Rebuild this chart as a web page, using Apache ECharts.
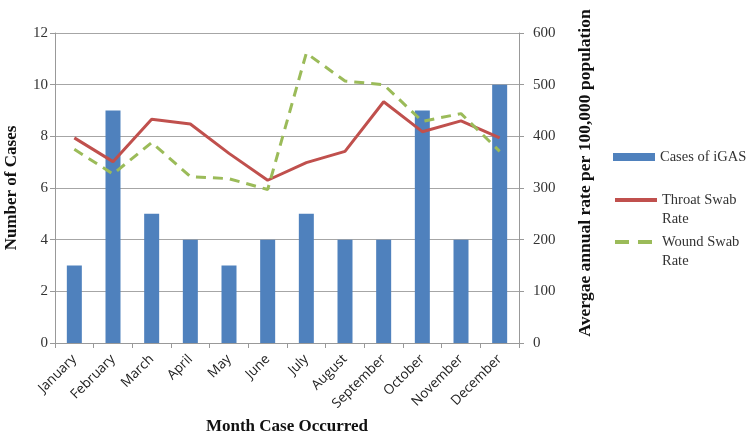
<!DOCTYPE html>
<html><head><meta charset="utf-8">
<script src="https://cdn.jsdelivr.net/npm/echarts@6/dist/echarts.min.js"></script>
<style>html,body{margin:0;padding:0;background:#fff}#c{width:747px;height:432px}</style>
</head><body><div id="c"></div>
<script>
const months = ['January','February','March','April','May','June','July','August','September','October','November','December'];
const cases = [3,9,5,4,3,4,5,4,4,9,4,10];
const throatRate = [397,351,433,424,367,315,349,371,467,409,430,397];
const woundRate = [375,327,388,322,318,297,561,507,500,429,444,371];
const leftTicks = {min:0,max:12,interval:2};
const rightTicks = {min:0,max:600,interval:100};

const serif = '"Liberation Serif", "DejaVu Serif", serif';
const legendText = {fontFamily:serif,fontSize:14.5,color:'#333',lineHeight:19};
function mkLegend(name, top){
  return {
    orient:'vertical', left:613, top:top, padding:0, itemWidth:42, itemHeight:8, itemGap:0,
    textStyle:legendText,
    formatter:function(n){return n==='Throat Swab Rate'?' \nThroat Swab\nRate':(n==='Wound Swab Rate'?' \nWound Swab\nRate':n);},
    data:[name]
  };
}
const chart = echarts.init(document.getElementById('c'));
chart.setOption({
  animation:false,
  grid:{left:55,right:228,top:33,bottom:89,containLabel:false,outerBoundsMode:'none'},
  legend:[
    mkLegend({name:'Cases of iGAS',icon:'rect'}, 147.5),
    mkLegend({name:'Throat Swab Rate',itemStyle:{opacity:0},lineStyle:{width:4}}, 171.5),
    mkLegend({name:'Wound Swab Rate',itemStyle:{opacity:0},lineStyle:{width:4,type:[14,9]}}, 213.5)
  ],
  xAxis:{
    type:'category', data:months, boundaryGap:true,
    axisLine:{lineStyle:{color:'#999'}},
    axisTick:{show:true,alignWithLabel:false,length:5,lineStyle:{color:'#999'}},
    axisLabel:{rotate:45,interval:0,fontFamily:'"Open Sans", "Liberation Sans", sans-serif',fontSize:13.5,color:'#222',margin:14},
    name:'Month Case Occurred', nameLocation:'middle', nameGap:73,
    nameTextStyle:{fontFamily:serif,fontSize:17,fontWeight:'bold',color:'#111'}
  },
  yAxis:[{
    type:'value', min:leftTicks.min, max:leftTicks.max, interval:leftTicks.interval,
    axisLine:{show:true,lineStyle:{color:'#999'}},
    axisTick:{show:true,length:5,lineStyle:{color:'#999'}},
    splitLine:{show:true,lineStyle:{color:'#a6a6a6'}},
    axisLabel:{fontFamily:serif,fontSize:15,color:'#333',margin:7},
    name:'Number of Cases', nameLocation:'middle', nameGap:35, nameRotate:90,
    nameTextStyle:{fontFamily:serif,fontSize:17,fontWeight:'bold',color:'#111'}
  },{
    type:'value', min:rightTicks.min, max:rightTicks.max, interval:rightTicks.interval,
    position:'right',
    axisLine:{show:true,lineStyle:{color:'#999'}},
    axisTick:{show:true,length:5,lineStyle:{color:'#999'}},
    splitLine:{show:false},
    axisLabel:{fontFamily:serif,fontSize:15,color:'#333',margin:14},
    name:'Avergae annual rate per 100,000 population', nameLocation:'middle', nameGap:57, nameRotate:90,
    nameTextStyle:{fontFamily:serif,fontSize:17.5,fontWeight:'bold',color:'#111',padding:[0,0,0,30]}
  }],
  series:[{
    name:'Cases of iGAS', type:'bar', data:cases, barWidth:15, yAxisIndex:0,
    itemStyle:{color:'#4f81bd'}
  },{
    name:'Throat Swab Rate', type:'line', data:throatRate, yAxisIndex:1, symbol:'none',
    lineStyle:{color:'#c0504d',width:3}, itemStyle:{color:'#c0504d'}
  },{
    name:'Wound Swab Rate', type:'line', data:woundRate, yAxisIndex:1, symbol:'none',
    lineStyle:{color:'#9bbb59',width:3,type:[10,7]}, itemStyle:{color:'#9bbb59'}
  }]
});
</script></body></html>
